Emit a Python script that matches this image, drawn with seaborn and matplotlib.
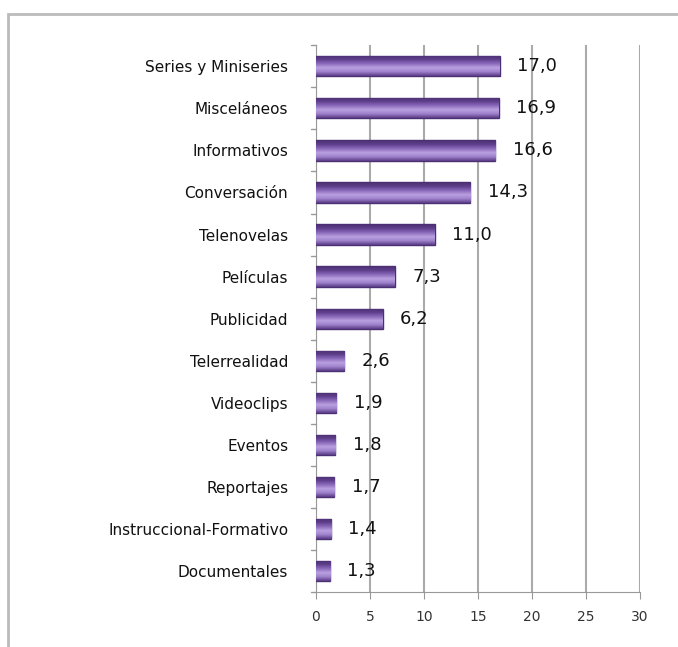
import matplotlib
matplotlib.use("Agg")
import matplotlib.pyplot as plt
import seaborn as sns
import pandas as pd
import numpy as np
from matplotlib.patches import Rectangle
from matplotlib.colors import LinearSegmentedColormap

categories = ["Series y Miniseries", "Misceláneos", "Informativos", "Conversación",
              "Telenovelas", "Películas", "Publicidad", "Telerrealidad", "Videoclips",
              "Eventos", "Reportajes", "Instruccional-Formativo", "Documentales"]
values = [17.0, 16.9, 16.6, 14.3, 11.0, 7.3, 6.2, 2.6, 1.9, 1.8, 1.7, 1.4, 1.3]
xticks = [0, 5, 10, 15, 20, 25, 30]

df = pd.DataFrame({"cat": categories, "val": values})

sns.set_style("white")
plt.rcParams["font.family"] = ["DejaVu Sans"]

fig = plt.figure(figsize=(6.78, 6.47), dpi=100)
ax = fig.add_axes([0.466, 0.085, 0.478, 0.845])

sns.barplot(data=df, x="val", y="cat", orient="h", color="#7A58A8", width=0.48,
            edgecolor="#4B2F73", linewidth=1.0, saturation=1, ax=ax, zorder=3)

# vertical gradient to mimic the 3D bar look
cmap = LinearSegmentedColormap.from_list(
    "g", ["#5A3C86", "#9F82CC", "#B9A0E0", "#8A68BA", "#5E3F8C", "#4A2E70"])
grad = np.linspace(0, 1, 64).reshape(-1, 1)
for p in list(ax.patches):
    x0, y0 = p.get_x(), p.get_y()
    w, h = p.get_width(), p.get_height()
    im = ax.imshow(grad, cmap=cmap, aspect="auto", extent=(x0, x0 + w, y0, y0 + h),
                   origin="upper", zorder=3.5)
    im.set_clip_path(p)

ax.set_xlim(0, 30)
ax.set_ylim(len(categories) - 0.5, -0.5)
ax.set_xticks(xticks)
ax.set_xticklabels([str(t) for t in xticks], fontsize=10, color="#333333")
ax.set_xlabel("")
ax.set_ylabel("")
ax.tick_params(axis="y", length=0, labelsize=11, pad=20, colors="#111111")
ax.tick_params(axis="x", length=5, color="#999999", pad=8, direction="out", bottom=True)
for t in [-0.5 + i for i in range(len(categories) + 1)]:
    ax.plot([-0.5, 0], [t, t], color="#999999", lw=1, clip_on=False, zorder=1)
ax.xaxis.grid(True, color="#AAAAAA", lw=1.5, zorder=0)
ax.set_axisbelow(True)
for sp in ["top", "right"]:
    ax.spines[sp].set_visible(False)
ax.spines["left"].set_color("#999999")
ax.spines["bottom"].set_color("#999999")

for i, v in enumerate(values):
    ax.text(v + 1.6, i, f"{v:.1f}".replace(".", ","), va="center", ha="left",
            fontsize=13, color="#111111", zorder=4)

fig.patches.append(Rectangle((8 / 678, -0.1), 1.2, 1 - 14 / 647 + 0.1,
                             transform=fig.transFigure, fill=False,
                             edgecolor="#BBBBBB", lw=2))

fig.savefig("out.png", dpi=100)
